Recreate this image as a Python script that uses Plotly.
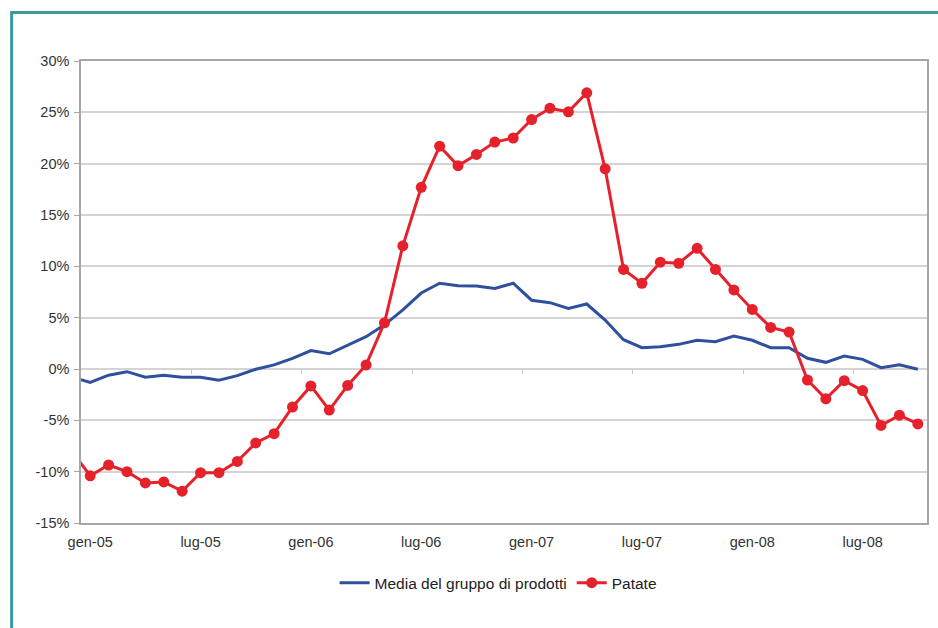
import plotly.graph_objects as go

# Monthly series, dic-04 through ott-08 (index -1 .. 45), year-on-year change in %
month_idx = list(range(-1, 46))

media_gruppo = [
    -0.8,
    -1.3, -0.6, -0.26, -0.8, -0.6, -0.8, -0.8, -1.1, -0.65, -0.03, 0.4, 1.04,
    1.8, 1.48, 2.3, 3.15, 4.3, 5.75, 7.4, 8.35, 8.1, 8.08, 7.85, 8.35,
    6.7, 6.46, 5.9, 6.33, 4.77, 2.85, 2.07, 2.17, 2.4, 2.8, 2.66, 3.2,
    2.8, 2.07, 2.07, 1.04, 0.65, 1.27, 0.94, 0.13, 0.4, -0.03,
]

patate = [
    -8.0,
    -10.4, -9.35, -10.0, -11.1, -11.0, -11.9, -10.1, -10.1, -9.0, -7.2, -6.3, -3.7,
    -1.65, -4.0, -1.6, 0.4, 4.5, 12.0, 17.7, 21.7, 19.8, 20.9, 22.1, 22.5,
    24.3, 25.4, 25.05, 26.9, 19.5, 9.7, 8.35, 10.4, 10.3, 11.75, 9.7, 7.7,
    5.8, 4.05, 3.6, -1.07, -2.9, -1.14, -2.1, -5.5, -4.5, -5.35,
]

x_tick_pos = [0, 6, 12, 18, 24, 30, 36, 42]
x_tick_text = ["gen-05", "lug-05", "gen-06", "lug-06", "gen-07", "lug-07", "gen-08", "lug-08"]
half_year_bounds = [5.5, 11.5, 17.5, 23.5, 29.5, 35.5, 41.5]

y_tick_vals = [-15, -10, -5, 0, 5, 10, 15, 20, 25, 30]
y_tick_text = ["-15%", "-10%", "-5%", "0%", "5%", "10%", "15%", "20%", "25%", "30%"]

BLUE = "#2f4f9f"
RED = "#e5222b"
FONT = "Liberation Sans, Arial, sans-serif"

fig = go.Figure()

fig.add_trace(go.Scatter(
    x=month_idx, y=media_gruppo, mode="lines",
    name="Media del gruppo di prodotti",
    line=dict(color=BLUE, width=3),
    xaxis="x", yaxis="y",
))

fig.add_trace(go.Scatter(
    x=month_idx, y=patate, mode="lines+markers",
    name="Patate",
    line=dict(color=RED, width=3),
    marker=dict(color=RED, size=11, symbol="circle"),
    xaxis="x2", yaxis="y",
))

x_range = [-0.5, 45.5]

fig.update_layout(
    width=938, height=628,
    margin=dict(l=81, r=9, t=61, b=105),
    paper_bgcolor="white",
    plot_bgcolor="white",
    font=dict(family=FONT, size=14.5, color="#333333"),
    showlegend=True,
    legend=dict(
        orientation="h", x=0.493, xanchor="center", y=-0.13, yanchor="middle",
        font=dict(family=FONT, size=15.5, color="#222222"),
        itemwidth=30, tracegroupgap=0,
    ),
    xaxis=dict(
        range=x_range,
        tickmode="array", tickvals=x_tick_pos, ticktext=x_tick_text,
        ticks="", showgrid=False, zeroline=False,
        showline=True, linecolor="#a6a6a6", linewidth=1.5, mirror=True,
        tickfont=dict(family=FONT, size=14.5, color="#333333"),
        ticklabelstandoff=5,
    ),
    xaxis2=dict(
        range=x_range, overlaying="x", anchor="free", position=1 / 3,
        tickmode="array", tickvals=half_year_bounds,
        ticks="outside", ticklen=4, tickcolor="#c8c8c8", tickwidth=1,
        showticklabels=False, showgrid=False, zeroline=False, showline=False,
    ),
    yaxis=dict(
        range=[-15, 30],
        tickmode="array", tickvals=y_tick_vals, ticktext=y_tick_text,
        showgrid=True, gridcolor="#d4d4d4", gridwidth=1.5,
        zeroline=False,
        showline=True, linecolor="#a6a6a6", linewidth=1.5, mirror=True,
        ticks="outside", ticklen=5, tickcolor="#a6a6a6",
        tickfont=dict(family=FONT, size=14.5, color="#333333"),
        ticklabelstandoff=2,
    ),
    shapes=[
        dict(
            type="rect", xref="paper", yref="paper",
            x0=-0.082, x1=1.2, y0=-0.5, y1=1.105,
            line=dict(color="#3a9a9d", width=3),
            fillcolor="rgba(0,0,0,0)", layer="below",
        ),
    ],
)

fig.write_html("out.html")
